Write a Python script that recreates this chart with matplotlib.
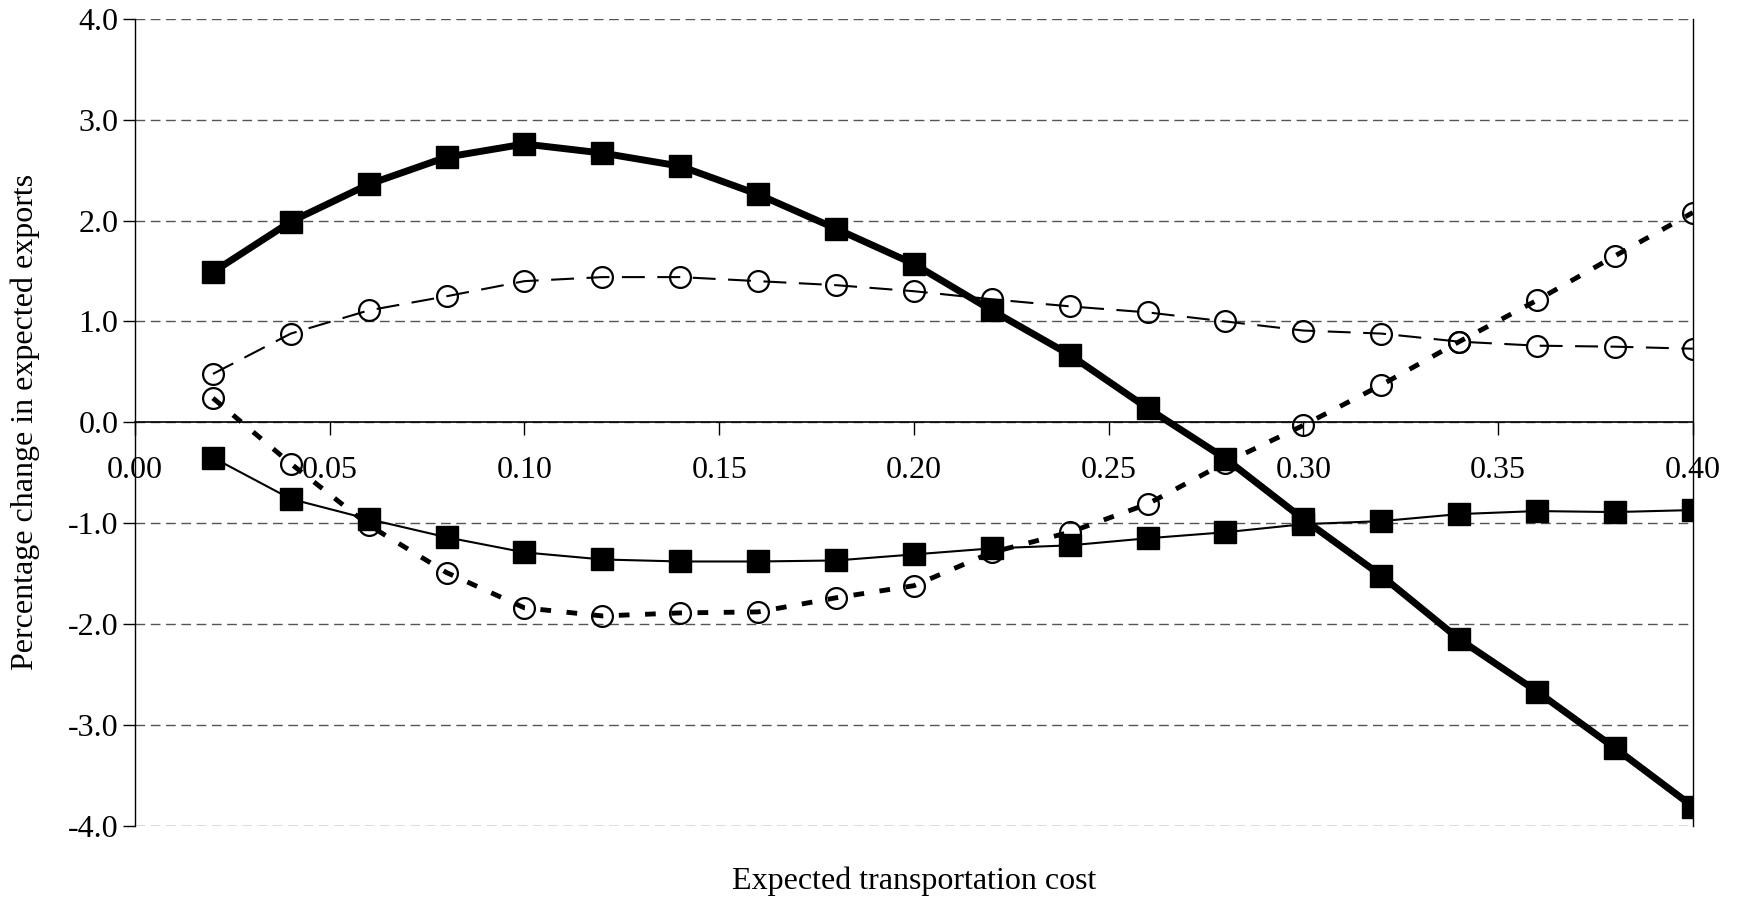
import matplotlib
matplotlib.use("Agg")
import matplotlib.pyplot as plt

plt.rcParams['font.family'] = ['Liberation Serif', 'DejaVu Serif']

# expected transportation cost
cost = [0.02, 0.04, 0.06, 0.08, 0.10, 0.12, 0.14, 0.16, 0.18, 0.20,
        0.22, 0.24, 0.26, 0.28, 0.30, 0.32, 0.34, 0.36, 0.38, 0.40]

# percentage change in expected exports, four cases
thick_sq = [1.49, 1.99, 2.36, 2.63, 2.76, 2.67, 2.54, 2.26, 1.92, 1.57,
            1.11, 0.67, 0.14, -0.36, -0.96, -1.52, -2.15, -2.67, -3.23, -3.81]
thin_sq = [-0.35, -0.76, -0.96, -1.14, -1.29, -1.36, -1.38, -1.38, -1.37, -1.31,
           -1.25, -1.22, -1.15, -1.09, -1.01, -0.98, -0.91, -0.88, -0.89, -0.87]
long_dash = [0.48, 0.88, 1.11, 1.25, 1.40, 1.44, 1.44, 1.40, 1.36, 1.30,
             1.22, 1.15, 1.09, 1.00, 0.91, 0.88, 0.80, 0.76, 0.75, 0.73]
short_dash = [0.24, -0.41, -1.02, -1.49, -1.84, -1.92, -1.89, -1.88, -1.74, -1.62,
              -1.29, -1.09, -0.81, -0.40, -0.03, 0.37, 0.80, 1.21, 1.65, 2.08]

yticks = [-4.0, -3.0, -2.0, -1.0, 0.0, 1.0, 2.0, 3.0, 4.0]
xticks = [0.00, 0.05, 0.10, 0.15, 0.20, 0.25, 0.30, 0.35, 0.40]

fig = plt.figure(figsize=(17.38, 9.02), dpi=100)
ax = fig.add_axes([0.0777, 0.0846, 0.8963, 0.8944])

for y in yticks:
    ax.axhline(y, color='#555555', lw=1.0, dashes=(7, 4), zorder=0)

ax.plot(cost, long_dash, color='black', lw=1.5, dashes=(11, 6),
        marker='o', ms=15, mfc='none', mec='black', mew=1.6, zorder=2)
ax.plot(cost, short_dash, color='black', lw=3.5, dashes=(2.2, 3.2),
        marker='o', ms=15, mfc='none', mec='black', mew=1.6, zorder=3)
ax.plot(cost, thin_sq, color='black', lw=1.5, ls='-',
        marker='s', ms=16, mfc='black', mec='black', zorder=4)
ax.plot(cost, thick_sq, color='black', lw=5, ls='-',
        marker='s', ms=16, mfc='black', mec='black', zorder=5)

ax.set_xlim(0, 0.40)
ax.set_ylim(-4, 4)
ax.set_yticks(yticks)
ax.set_yticklabels(['%.1f' % v for v in yticks])
ax.set_xticks(xticks)
ax.set_xticklabels(['%.2f' % v for v in xticks])

ax.spines['top'].set_visible(False)
ax.spines['bottom'].set_position(('data', 0))
ax.spines['bottom'].set_linewidth(1.2)
ax.spines['left'].set_linewidth(1.0)
ax.spines['right'].set_linewidth(1.0)

ax.tick_params(axis='y', direction='out', length=9, width=1, labelsize=23, pad=3)
ax.tick_params(axis='x', direction='out', length=9, width=1, labelsize=23, pad=15)
for lbl in ax.get_xticklabels():
    lbl.set_zorder(1)

ax.set_ylabel('Percentage change in expected exports', fontsize=23)
ax.yaxis.set_label_coords(-0.061, 0.5)
fig.text(0.526, 0.0233, 'Expected transportation cost', fontsize=23, ha='center', va='center')

fig.savefig('out.png', dpi=100, facecolor='white')
